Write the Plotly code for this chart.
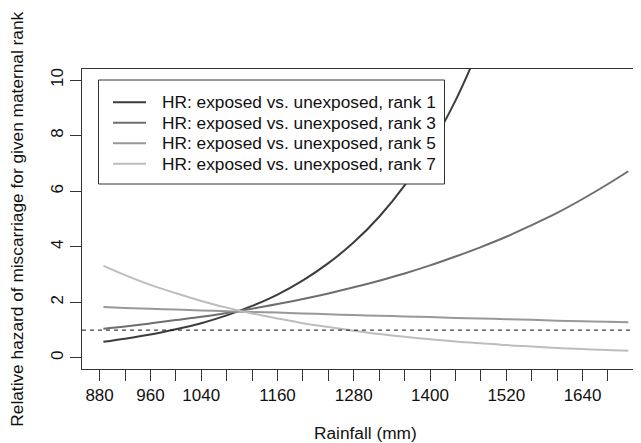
import plotly.graph_objects as go

# Rainfall (mm) sample points
rainfall = [886, 920, 960, 1000, 1040, 1080, 1120, 1160, 1200, 1240, 1280, 1320,
            1360, 1400, 1440, 1480, 1520, 1560, 1600, 1640, 1680, 1712]

# Hazard ratios (exposed vs. unexposed) by maternal rank
hr_rank1 = [0.58, 0.69, 0.84, 1.03, 1.25, 1.53, 1.87, 2.28, 2.79, 3.41, 4.16, 5.08,
            6.21, 7.58, 9.26, 11.31]
hr_rank3 = [1.05, 1.13, 1.24, 1.36, 1.48, 1.62, 1.77, 1.94, 2.12, 2.32, 2.54, 2.78,
            3.04, 3.33, 3.65, 3.99, 4.36, 4.78, 5.22, 5.72, 6.26, 6.72]
hr_rank5 = [1.83, 1.80, 1.77, 1.74, 1.71, 1.68, 1.65, 1.63, 1.60, 1.57, 1.54, 1.52,
            1.49, 1.47, 1.44, 1.42, 1.39, 1.37, 1.34, 1.32, 1.30, 1.28]
hr_rank7 = [3.31, 2.98, 2.63, 2.33, 2.05, 1.81, 1.60, 1.42, 1.25, 1.11, 0.98, 0.86,
            0.76, 0.67, 0.59, 0.53, 0.46, 0.41, 0.36, 0.32, 0.28, 0.26]

series_names = ["HR: exposed vs. unexposed, rank 1", "HR: exposed vs. unexposed, rank 3",
                "HR: exposed vs. unexposed, rank 5", "HR: exposed vs. unexposed, rank 7"]
series_values = [hr_rank1, hr_rank3, hr_rank5, hr_rank7]
series_colors = ["#3c3c3c", "#6e6e6e", "#989898", "#bdbdbd"]

x_tickvals = list(range(880, 1721, 40))
x_labels = {880: "880", 960: "960", 1040: "1040", 1160: "1160", 1280: "1280",
            1400: "1400", 1520: "1520", 1640: "1640"}
y_tickvals = [0, 2, 4, 6, 8, 10]
reference_hr = 1

FONT = "Liberation Sans, Arial, sans-serif"
AX = "#333333"
PAGE_OFFSET = 8            # default body margin of the html page
W, H = 641 - PAGE_OFFSET, 443 - PAGE_OFFSET
ML, MR, MT, MB = 82 - PAGE_OFFSET, 0, 69 - PAGE_OFFSET, 74
PW, PH = W - ML - MR, H - MT - MB
Y_RANGE = [-0.4, 10.4]


def px_x(p):  # page pixel -> paper x
    return (p - PAGE_OFFSET - ML) / PW


def px_y(p):  # page pixel -> paper y
    return (H - MB - (p - PAGE_OFFSET)) / PH


fig = go.Figure()
for name, vals, col in zip(series_names, series_values, series_colors):
    fig.add_trace(go.Scatter(x=rainfall[:len(vals)], y=vals, mode="lines", name=name,
                             line=dict(color=col, width=2, shape="spline"),
                             showlegend=False))

fig.add_hline(y=reference_hr, line=dict(color="#111111", width=1, dash="4px,4px"))

# legend box (drawn like R's legend())
fig.add_shape(type="rect", xref="paper", yref="paper",
              x0=px_x(98.5), x1=px_x(444.5), y0=px_y(184), y1=px_y(80),
              line=dict(color=AX, width=1), fillcolor="white", layer="above")
legend_rows = [102.3, 122.8, 143.3, 163.8]
for name, col, ry in zip(series_names, series_colors, legend_rows):
    fig.add_shape(type="line", xref="paper", yref="paper",
                  x0=px_x(113), x1=px_x(146), y0=px_y(ry), y1=px_y(ry),
                  line=dict(color=col, width=2), layer="above")
    fig.add_annotation(text=name, xref="paper", yref="paper", x=px_x(159.5), y=px_y(ry),
                       xanchor="left", yanchor="middle", showarrow=False,
                       font=dict(size=17.3))

fig.update_layout(
    width=W, height=H,
    margin=dict(l=ML, r=MR, t=MT, b=MB, autoexpand=False),
    paper_bgcolor="white", plot_bgcolor="white",
    font=dict(family=FONT, size=17.3, color="#111111"),
    showlegend=False,
    xaxis=dict(range=[852.3, 1732], tickmode="array", tickvals=x_tickvals,
               ticktext=[x_labels.get(v, "") for v in x_tickvals], automargin=False,
               showgrid=False, zeroline=False, showline=True, mirror=True,
               linecolor=AX, linewidth=1, ticks="outside", ticklen=11,
               tickcolor=AX, tickwidth=1, tickfont=dict(size=17)),
    yaxis=dict(range=Y_RANGE, tickmode="array", tickvals=y_tickvals, automargin=False,
               showgrid=False, zeroline=False, showline=True, mirror=False,
               linecolor=AX, linewidth=1, ticks="outside", ticklen=11,
               tickcolor=AX, tickwidth=1, tickangle=-90, tickfont=dict(size=17)),
)

fig.add_annotation(text="Rainfall (mm)", x=1299, xref="x", y=px_y(433), yref="paper",
                   showarrow=False, xanchor="center", yanchor="middle",
                   font=dict(size=17.3))
fig.add_annotation(text="Relative hazard of miscarriage for given maternal rank",
                   x=px_x(16.7), xref="paper", y=0.5, yref="paper", textangle=-90,
                   showarrow=False, xanchor="center", yanchor="middle",
                   font=dict(size=17.3))

fig.write_html("out.html")
